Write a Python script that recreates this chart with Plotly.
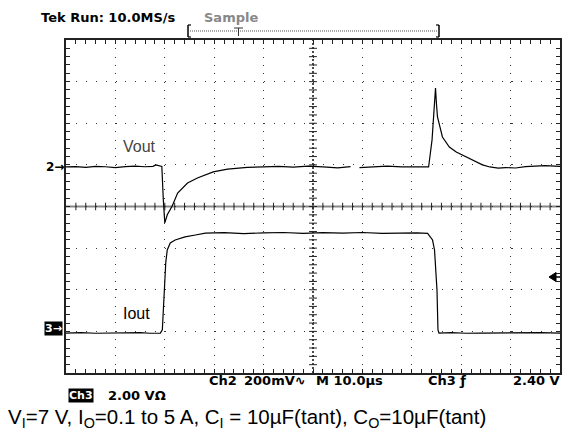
import plotly.graph_objects as go

W, H = 568, 434

# ---- data (read from the scope screen) ----
# time in microseconds (M 10.0 us/div)
time_vout = [0, 2, 4, 6, 8, 10, 12, 14, 16, 17.6, 18.2, 18.8, 19.4, 19.7, 20.0, 20.5,
             21.5, 22.6, 24.6, 26.6, 29.8, 32.7, 36.7, 40, 43, 46, 49, 52, 55, 57.6,
             58.5, 59.4, 62, 65, 68, 71, 73.4, 74.1, 74.8, 75.0, 75.2, 76.2, 77.6, 79.0,
             80.3, 82.3, 84.3, 85.8, 87.5, 89, 91, 93, 95, 97, 100]
# Vout deviation in mV (Ch2, 200 mV/div); None = gap in the acquired record
vout_mv = [0, 2, -2, 3, 1, -3, 2, 4, 1, 3, 10, 6, 2, -159, -269, -230,
           -188, -125, -77, -53, -24, -10, -2, 0, 3, -1, 4, 0, -4, 2,
           None, -3, 1, 4, 0, -2, 0, 130, 379, 300, 240, 144, 96, 72,
           57, 33, 10, 0, -6, -3, -5, 2, 4, 6, 3]

time_iout = [0, 3, 6, 9, 12, 15, 17, 19.1, 19.5, 19.7, 19.9, 20.2, 20.5, 21.1, 22.1,
             24.1, 26.2, 28.2, 32, 36, 40, 44, 48, 52, 56, 60, 64, 68, 71, 73.2,
             74.2, 74.6, 75.1, 75.3, 75.5, 78, 81, 84, 87, 90, 93, 96, 100]
# Iout in A (Ch3)
iout_a = [0.10, 0.12, 0.09, 0.11, 0.10, 0.12, 0.09, 0.10, 0.25, 1.21, 2.41, 3.51, 4.09, 4.43, 4.57,
          4.72, 4.81, 4.90, 4.92, 4.88, 4.91, 4.93, 4.89, 4.92, 4.90, 4.93, 4.89, 4.92, 4.91, 4.89,
          4.57, 4.09, 2.17, 0.25, 0.10, 0.12, 0.09, 0.10, 0.11, 0.09, 0.10, 0.12, 0.10]

# channel scales / screen offsets (divisions from bottom of graticule)
CH2_MV_PER_DIV = 200
CH2_OFFSET_DIV = 4.95
CH3_A_PER_DIV = 2.0
CH3_OFFSET_DIV = 0.91
N_XDIV, N_YDIV = 10, 8

# ---- geometry (pixels) ----
X0, X1, Y0, Y1 = 66, 560, 40, 373


def px(x):
    return x / W


def py(y):
    return 1 - y / H


fig = go.Figure()
fig.add_trace(go.Scatter(x=time_vout, y=vout_mv, mode="lines", yaxis="y2",
                         line=dict(color="black", width=1.2), connectgaps=False,
                         hoverinfo="skip", showlegend=False))
fig.add_trace(go.Scatter(x=time_iout, y=iout_a, mode="lines", yaxis="y3",
                         line=dict(color="black", width=1.2),
                         hoverinfo="skip", showlegend=False))

dom_x = [px(X0), px(X1)]
dom_y = [py(Y1), py(Y0)]

axcommon = dict(showticklabels=False, zeroline=False, showline=True, linecolor="#222",
                linewidth=1.5, mirror="allticks", ticks="inside", ticklen=4,
                tickcolor="#222", tickwidth=1, showgrid=True, gridcolor="#333", gridwidth=1.2)

fig.update_layout(
    width=W, height=H, margin=dict(l=0, r=0, t=0, b=0),
    paper_bgcolor="white", plot_bgcolor="white",
    xaxis=dict(domain=dom_x, range=[0, N_XDIV * 10], dtick=10, tick0=0,
               griddash="1px,7.3px",
               minor=dict(dtick=2, ticks="inside", ticklen=4, tickcolor="#222", showgrid=False),
               **axcommon),
    yaxis=dict(domain=dom_y, range=[0, N_YDIV], dtick=1, tick0=0,
               griddash="1px,8.9px",
               minor=dict(dtick=0.2, ticks="inside", ticklen=4, tickcolor="#222", showgrid=False),
               **axcommon),
    yaxis2=dict(overlaying="y", visible=False, showgrid=False,
                range=[-CH2_OFFSET_DIV * CH2_MV_PER_DIV, (N_YDIV - CH2_OFFSET_DIV) * CH2_MV_PER_DIV]),
    yaxis3=dict(overlaying="y", visible=False, showgrid=False,
                range=[-CH3_OFFSET_DIV * CH3_A_PER_DIV, (N_YDIV - CH3_OFFSET_DIV) * CH3_A_PER_DIV]),
)

shapes = []
# centre cross
shapes.append(dict(type="line", xref="x", yref="y", x0=0, x1=100, y0=4, y1=4,
                   line=dict(color="#888", width=2), layer="below"))
shapes.append(dict(type="line", xref="x", yref="y", x0=50, x1=50, y0=0, y1=8,
                   line=dict(color="#111", width=1.5, dash="2px,2px"), layer="below"))
for i in range(1, 50):
    xv = i * 2
    shapes.append(dict(type="line", xref="x", yref="y", x0=xv, x1=xv, y0=3.91, y1=4.09,
                       line=dict(color="#222", width=1), layer="below"))
for i in range(1, 40):
    yv = i * 0.2
    shapes.append(dict(type="line", xref="x", yref="y", x0=49.2, x1=50.8, y0=yv, y1=yv,
                       line=dict(color="#222", width=1), layer="below"))

# trigger record bracket at top
shapes.append(dict(type="line", xref="paper", yref="paper", x0=px(190), x1=px(437),
                   y0=py(31), y1=py(31), line=dict(color="#555", width=1, dash="1px,1px")))
for xb, d in [(188, 1), (439, -1)]:
    shapes.append(dict(type="line", xref="paper", yref="paper", x0=px(xb), x1=px(xb),
                       y0=py(25), y1=py(37), line=dict(color="black", width=1.5)))
    shapes.append(dict(type="line", xref="paper", yref="paper", x0=px(xb), x1=px(xb + 3 * d),
                       y0=py(37), y1=py(37), line=dict(color="black", width=1.2)))
    shapes.append(dict(type="line", xref="paper", yref="paper", x0=px(xb), x1=px(xb + 3 * d),
                       y0=py(25), y1=py(25), line=dict(color="black", width=1.2)))
shapes.append(dict(type="line", xref="paper", yref="paper", x0=px(234), x1=px(243),
                   y0=py(28), y1=py(28), line=dict(color="#333", width=1)))
shapes.append(dict(type="line", xref="paper", yref="paper", x0=px(238.5), x1=px(238.5),
                   y0=py(28), y1=py(36), line=dict(color="#333", width=1)))

# trigger-level marker (arrow on right edge)
shapes.append(dict(type="path", xref="paper", yref="paper",
                   path=f"M {px(549)} {py(277)} L {px(556)} {py(272.5)} L {px(556)} {py(281.5)} Z",
                   fillcolor="black", line=dict(color="black", width=1)))
shapes.append(dict(type="line", xref="paper", yref="paper", x0=px(555), x1=px(560),
                   y0=py(277), y1=py(277), line=dict(color="black", width=1.5)))
fig.update_layout(shapes=shapes)

SCOPE_FONT = "DejaVu Sans"


def note(text, x, y, size=12, color="black", bold=True, family=SCOPE_FONT, xanchor="left",
         bg=None):
    fig.add_annotation(text=f"<b>{text}</b>" if bold else text, x=px(x), y=py(y),
                       xref="paper", yref="paper", xanchor=xanchor, yanchor="middle",
                       showarrow=False, font=dict(family=family, size=size, color=color),
                       bgcolor=bg, borderpad=0)


note("Tek Run: 10.0MS/s", 40, 17, size=13)
note("Sample", 203, 17, size=13, color="#888")
note("Vout", 122, 147, size=16, bold=False, family="Liberation Sans", color="#444")
note("Iout", 122, 313, size=16, bold=False, family="Liberation Sans")
note("2→", 45, 167, size=12)
note("3→", 44, 328, size=11, color="white", bg="black")

note("Ch2", 208, 380, size=13)
note("200mV∿", 243, 380, size=13)
note("M 10.0µs", 315, 380, size=13)
note("Ch3 ƒ", 427, 380, size=13)
note("2.40 V", 561, 380, size=13, xanchor="right")
note("Ch3", 68, 395, size=11, color="white", bg="black")
note("2.00 VΩ", 107, 395, size=13)

fig.add_annotation(
    text="V<sub>I</sub>=7 V, I<sub>O</sub>=0.1 to 5 A, C<sub>I</sub> = 10µF(tant), C<sub>O</sub>=10µF(tant)",
    x=px(6), y=py(418), xref="paper", yref="paper", xanchor="left", yanchor="middle",
    showarrow=False, font=dict(family="Liberation Sans", size=20.5, color="black"))

fig.write_html("out.html", config={"displayModeBar": False},
               post_script="document.body.style.margin='0';document.body.style.overflow='hidden';")
